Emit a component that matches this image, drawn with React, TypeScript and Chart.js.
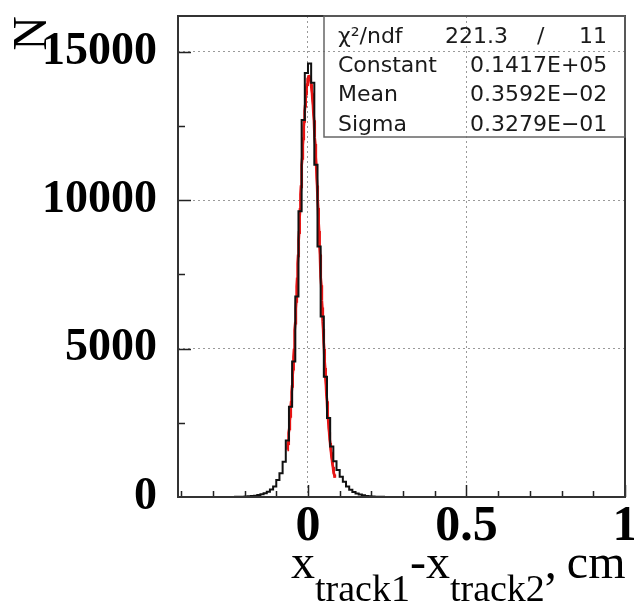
import React, { useEffect, useRef } from 'react';
import { Chart, registerables } from 'chart.js';

Chart.register(...registerables);

// Histogram binning (x in cm)
const histMin = -0.41;
const histMax = 1.0;
const binWidth = 0.01;
// Lower edge of the first non-empty bin; bins outside are empty
const countsLowEdge = -0.25;
const counts = [
  2, 3, 5, 7, 10, 15, 22, 32, 45, 65,
  90, 125, 180, 250, 350, 570, 800, 1190, 1900, 3040,
  4560, 6750, 9620, 12700, 14280, 14600, 13950, 11190, 8440, 6080,
  4050, 2660, 1700, 1200, 910, 685, 515, 350, 240, 170,
  120, 80, 55, 35, 22, 15, 10, 7, 5, 3,
  2,
];

// Gaussian fit (values from the stats box)
const fitConstant = 14170;
const fitMean = 0.003592;
const fitSigma = 0.03279;
const fitRange = [-0.065, 0.085];
const chi2 = '221.3';
const ndf = '11';

// Axes
const xMajorTicks = [0, 0.5, 1];
const xMinorTicks = [-0.4, -0.3, -0.2, -0.1, 0, 0.1, 0.2, 0.3, 0.4, 0.5, 0.6, 0.7, 0.8, 0.9, 1.0];
const yMajorTicks = [0, 5000, 10000, 15000];
const yMinorTicks = [2500, 5000, 7500, 10000, 12500, 15000];
const yMax = 16200;

const statsRows = [
  ['Constant', '0.1417E+05'],
  ['Mean', '0.3592E\u221202'],
  ['Sigma', '0.3279E\u221201'],
];

function buildHistPoints() {
  const pts: { x: number; y: number }[] = [{ x: histMin, y: 0 }];
  counts.forEach((c, i) => {
    pts.push({ x: +(countsLowEdge + i * binWidth).toFixed(4), y: c });
  });
  pts.push({ x: +(countsLowEdge + counts.length * binWidth).toFixed(4), y: 0 });
  pts.push({ x: histMax, y: 0 });
  return pts;
}

function buildFitPoints() {
  const pts: { x: number; y: number }[] = [];
  const n = 150;
  for (let i = 0; i <= n; i++) {
    const x = fitRange[0] + ((fitRange[1] - fitRange[0]) * i) / n;
    const z = (x - fitMean) / fitSigma;
    pts.push({ x, y: fitConstant * Math.exp(-0.5 * z * z) });
  }
  return pts;
}

const decorPlugin = {
  id: 'rootDecor',
  afterDraw(chart: any) {
    const { ctx, chartArea, scales } = chart;
    const { left, top, right, bottom } = chartArea;
    const xs = scales.x;
    const ys = scales.y;
    ctx.save();
    // ticks inside frame
    ctx.strokeStyle = '#222';
    ctx.lineWidth = 1.5;
    ctx.beginPath();
    xMinorTicks.forEach((v) => {
      const px = Math.round(xs.getPixelForValue(v)) + 0.5;
      const major = xMajorTicks.some((m) => Math.abs(m - v) < 1e-9);
      ctx.moveTo(px, bottom);
      ctx.lineTo(px, bottom - (major ? 12 : 6));
    });
    yMinorTicks.forEach((v) => {
      const py = Math.round(ys.getPixelForValue(v)) + 0.5;
      const major = yMajorTicks.includes(v);
      ctx.moveTo(left, py);
      ctx.lineTo(left + (major ? 13 : 7), py);
    });
    ctx.stroke();

    // frame
    ctx.strokeStyle = '#333';
    ctx.lineWidth = 2;
    ctx.strokeRect(left, top, right - left, bottom - top);

    // stats box
    const bx = 324;
    const by = top;
    const bw = right - bx;
    const bh = 137 - top;
    ctx.strokeStyle = '#666';
    ctx.lineWidth = 1.5;
    ctx.strokeRect(bx, by, bw, bh);
    ctx.fillStyle = '#1a1a1a';
    ctx.font = '22px "DejaVu Sans"';
    ctx.textBaseline = 'alphabetic';
    ctx.textAlign = 'left';
    ctx.fillText('\u03c7\u00b2/ndf', 338, 43);
    ctx.fillText(chi2, 445, 43);
    ctx.fillText('/', 537, 43);
    ctx.textAlign = 'right';
    ctx.fillText(ndf, 607, 43);
    ctx.textAlign = 'left';
    statsRows.forEach((r, i) => {
      const yb = 72 + i * 29.3;
      ctx.fillText(r[0], 338, yb);
      ctx.fillText(r[1], 470, yb);
    });

    // x-axis title with subscripts
    const mainFont = '48px "Liberation Serif"';
    const subFont = '38px "Liberation Serif"';
    const parts: [string, boolean, number][] = [
      ['x', false, 0],
      ['track1', true, 0],
      ['-', false, 0],
      ['x', false, 0],
      ['track2', true, 0],
      [',', false, 10],
      ['cm', false, 0],
    ];
    let cx = 291;
    ctx.fillStyle = '#000';
    ctx.textAlign = 'left';
    parts.forEach(([t, sub, extra]) => {
      ctx.font = sub ? subFont : mainFont;
      ctx.fillText(t, cx, sub ? 601 : 578);
      cx += ctx.measureText(t).width + extra;
    });
    ctx.restore();
  },
};

export default function App() {
  const ref = useRef<HTMLCanvasElement>(null);
  useEffect(() => {
    document.body.style.margin = '0';
    const canvas = ref.current!;
    const yLabelFont = { family: '"Liberation Serif"', size: 46, weight: 'bold' as const };
    const xLabelFont = { family: '"Liberation Serif"', size: 50, weight: 'bold' as const };
    const chart = new Chart(canvas, {
      type: 'line',
      data: {
        datasets: [
          {
            data: buildHistPoints(),
            borderColor: '#111',
            borderWidth: 2,
            pointRadius: 0,
            stepped: true,
            fill: false,
            tension: 0,
          },
          {
            data: buildFitPoints(),
            borderColor: 'rgba(228,0,0,0.92)',
            borderWidth: 2.8,
            pointRadius: 0,
            fill: false,
            tension: 0,
          },
        ],
      },
      options: {
        animation: false,
        responsive: false,
        layout: { padding: { left: 0, top: 16, right: 9, bottom: 0 } },
        plugins: { legend: { display: false }, tooltip: { enabled: false } },
        scales: {
          x: {
            type: 'linear',
            min: histMin,
            max: histMax,
            afterBuildTicks: (s: any) => {
              s.ticks = xMajorTicks.map((v) => ({ value: v }));
            },
            ticks: {
              autoSkip: false,
              maxRotation: 0,
              padding: 0,
              color: '#000',
              font: xLabelFont,
              callback: (v: any) => String(Math.round(Number(v) * 10) / 10),
            },
            grid: { color: '#9a9a9a', lineWidth: 1, drawTicks: false },
            border: { display: false, dash: [2, 3] },
            afterFit: (s: any) => {
              s.height = 113;
              s.paddingLeft = 0;
              s.paddingRight = 0;
            },
          },
          y: {
            type: 'linear',
            min: 0,
            max: yMax,
            afterBuildTicks: (s: any) => {
              s.ticks = yMajorTicks.map((v) => ({ value: v }));
            },
            ticks: {
              autoSkip: false,
              padding: 21,
              color: '#000',
              font: yLabelFont,
              callback: (v: any) => String(Math.round(Number(v))),
            },
            title: {
              display: true,
              text: 'N',
              align: 'end',
              color: '#000',
              font: { family: '"Liberation Serif"', size: 48 },
              padding: { top: 5, bottom: 0 },
            },
            grid: { color: '#9a9a9a', lineWidth: 1, drawTicks: false },
            border: { display: false, dash: [2, 3] },
            afterFit: (s: any) => {
              s.width = 178;
              s.paddingTop = 0;
              s.paddingBottom = 0;
            },
          },
        },
      },
      plugins: [decorPlugin],
    });
    return () => chart.destroy();
  }, []);
  return (
    <div style={{ width: 634, height: 610 }}>
      <canvas ref={ref} width={634} height={610} style={{ display: 'block' }} />
    </div>
  );
}
